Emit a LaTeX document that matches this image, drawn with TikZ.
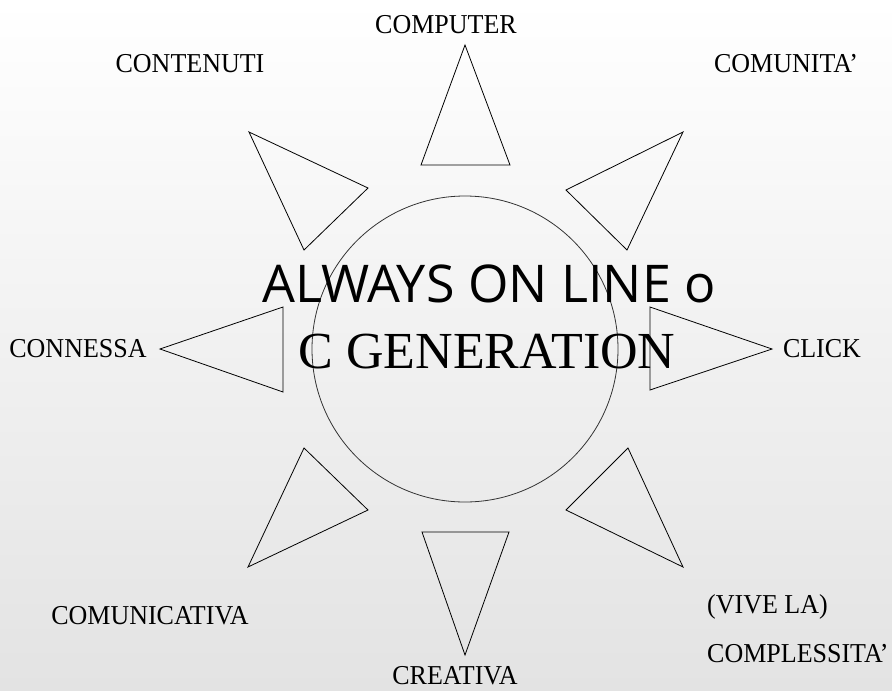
\documentclass[tikz,border=0pt]{standalone}
\usepackage{fontspec}
\setmainfont{Liberation Serif}
\newfontfamily\titlesans{Open Sans}
\begin{document}
\begin{tikzpicture}[x=1pt,y=-1pt,
  tri/.style={draw=black,line width=0.8pt,line join=miter},
  lbl/.style={font=\fontsize{26}{30}\selectfont,inner sep=0pt,text=black,yscale=1.05}]
\useasboundingbox (0,0) rectangle (892,691);
\shade[top color=white,bottom color=black!11] (0,0) rectangle (892,691);
% central circle
\draw[line width=0.8pt,black!80] (465,349) circle[radius=153];
% triangles
\draw[tri] (465,45) -- (510,165) -- (421,165) -- cycle;
\draw[tri] (683,132) -- (627,250) -- (566,190) -- cycle;
\draw[tri] (772,349) -- (650,390) -- (650,307) -- cycle;
\draw[tri] (683,567) -- (566,510) -- (628,448) -- cycle;
\draw[tri] (465,655) -- (422,532) -- (509,532) -- cycle;
\draw[tri] (248,567) -- (304,448) -- (368,510) -- cycle;
\draw[tri] (160,349) -- (283,307) -- (283,392) -- cycle;
\draw[tri] (249,132) -- (368,188) -- (304,250) -- cycle;
% central text
\node[inner sep=0pt,font=\titlesans\fontsize{52}{60}\selectfont] (t1) at (489,284) {ALWAYS ON LINE o};
\node[inner sep=0pt,font=\fontsize{52}{60}\selectfont] (t2) at (487,352) {C GENERATION};
% labels
\node[lbl] (computer) at (446,25) {COMPUTER};
\node[lbl] (contenuti) at (190,64) {CONTENUTI};
\node[lbl] (comunita) at (786,64) {COMUNITA'};
\node[lbl] (connessa) at (78,349) {CONNESSA};
\node[lbl] (click) at (822,349) {CLICK};
\node[lbl] (comunicativa) at (150,616) {COMUNICATIVA};
\node[lbl] (creativa) at (455,676) {CREATIVA};
\node[lbl,anchor=west] (vive) at (707,607) {(VIVE LA)};
\node[lbl,anchor=west] (complessita) at (707,654) {COMPLESSITA'};
\end{tikzpicture}
\end{document}
